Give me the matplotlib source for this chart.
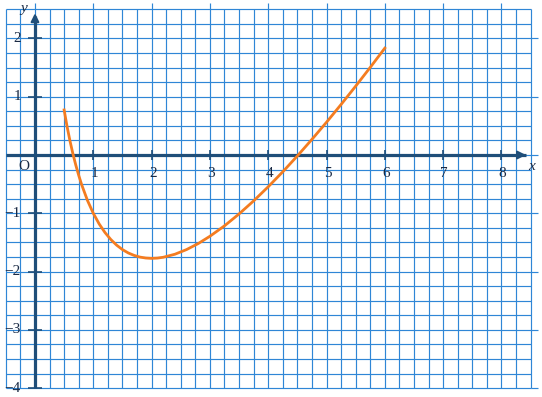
import numpy as np
import matplotlib
matplotlib.use("Agg")
import matplotlib.pyplot as plt

# ----------------------------
# Data
# ----------------------------
curve_x = [0.5, 0.55, 0.6, 0.65, 0.7, 0.75, 0.8, 0.9, 1.0, 1.1, 1.2, 1.3, 1.4,
           1.5, 1.6, 1.7, 1.8, 1.9, 2.0, 2.1, 2.2, 2.4, 2.6, 2.8, 3.0, 3.25,
           3.5, 3.75, 4.0, 4.25, 4.5, 4.75, 5.0, 5.25, 5.5, 5.75, 6.0]
curve_y = [0.773, 0.491, 0.243, 0.023, -0.173, -0.349, -0.507, -0.779, -1.0,
           -1.181, -1.329, -1.449, -1.546, -1.622, -1.680, -1.722, -1.751,
           -1.767, -1.773, -1.768, -1.754, -1.702, -1.622, -1.519, -1.394,
           -1.215, -1.011, -0.787, -0.545, -0.288, -0.016, 0.268, 0.562,
           0.867, 1.181, 1.503, 1.833]

x_ticks = [1, 2, 3, 4, 5, 6, 7, 8]
y_ticks = [2, 1, -1, -2, -3, -4]
y_tick_labels = ["2", "1", "\u22121", "\u22122", "\u22123", "\u22124"]

# ----------------------------
# Style
# ----------------------------
GRID = "#2f86d6"
AXIS = "#1f4e79"
CURVE = "#f47c20"
TEXT = "#1a2a44"
FONT = "Liberation Serif"

fig = plt.figure(figsize=(5.42, 3.97), dpi=100)
ax = fig.add_axes([0, 0, 1, 1])
ax.set_xlim(-0.600, 8.696)
ax.set_ylim(-4.151, 2.659)
ax.axis("off")

# grid every 0.25
gx = np.arange(-0.5, 8.5001, 0.25)
gy = np.arange(-4.0, 2.5001, 0.25)
ax.vlines(gx, -4.0, 2.5, color=GRID, lw=0.85, zorder=1)
ax.hlines(gy, -0.5, 8.5, color=GRID, lw=0.85, zorder=1)
# integer lines run a little past the grid
ax.vlines(np.arange(0, 9), 2.5, 2.61, color=GRID, lw=0.85, zorder=1)
ax.hlines(np.arange(-4, 3), 8.5, 8.63, color=GRID, lw=0.85, zorder=1)

# axes
ax.plot([-0.5, 8.42], [0, 0], color=AXIS, lw=2.3, zorder=3, solid_capstyle="butt")
ax.plot([0, 0], [-4.0, 2.38], color=AXIS, lw=2.3, zorder=3, solid_capstyle="butt")
ax.annotate("", xy=(8.47, 0), xytext=(8.3, 0),
            arrowprops=dict(arrowstyle="-|>", color=AXIS, lw=1.5, mutation_scale=12),
            zorder=4)
ax.annotate("", xy=(0, 2.48), xytext=(0, 2.3),
            arrowprops=dict(arrowstyle="-|>", color=AXIS, lw=1.5, mutation_scale=12),
            zorder=4)

# tick marks
ax.vlines(x_ticks, -0.09, 0.09, color=AXIS, lw=1.2, zorder=3)
ax.hlines(y_ticks, -0.12, 0.12, color=AXIS, lw=1.2, zorder=3)

# curve
ax.plot(curve_x, curve_y, color=CURVE, lw=2.0, zorder=5)

# labels
for t in x_ticks:
    ax.text(t + 0.02, -0.31, str(t), ha="center", va="center",
            fontsize=11, family=FONT, color=TEXT, zorder=6)
for t, lab in zip(y_ticks, y_tick_labels):
    ax.text(-0.24, t, lab, ha="right", va="center",
            fontsize=11, family=FONT, color=TEXT, zorder=6)
ax.text(-0.19, -0.19, "O", ha="center", va="center",
        fontsize=11, family=FONT, color=TEXT, zorder=6)
ax.text(8.51, -0.2, "x", ha="center", va="center", style="italic",
        fontsize=11, family=FONT, color=TEXT, zorder=6)
ax.text(-0.19, 2.52, "y", ha="center", va="center", style="italic",
        fontsize=11, family=FONT, color=TEXT, zorder=6)

fig.savefig("out.png", dpi=100)
